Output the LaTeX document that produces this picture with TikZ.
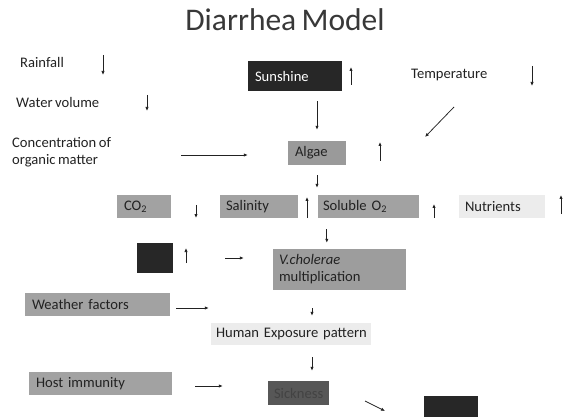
\documentclass[tikz,border=0pt]{standalone}
\usepackage{fontspec}
\setmainfont{Carlito}[WordSpace=0.75]
\usetikzlibrary{arrows.meta,positioning}

\definecolor{ink}{HTML}{222222}
\definecolor{darkbox}{HTML}{272727}
\definecolor{midbox}{HTML}{A2A2A2}
\definecolor{lightbox}{HTML}{ECECEC}
\definecolor{sickbox}{HTML}{575757}

\tikzset{
  every node/.style={font=\fontsize{14.6}{17}\selectfont, text=ink},
  flow/.style={draw=ink, line width=0.75pt, -{Latex[length=4pt,width=3.4pt]}},
  box/.style={rectangle, inner xsep=7pt, inner ysep=0pt, align=left, minimum height=23pt, fill=midbox},
  lbl/.style={anchor=base west, inner sep=0pt},
  pics/trendup/.style={code={\draw[flow] (0,#1/2) -- (0,-#1/2);}},
  pics/trenddown/.style={code={\draw[flow] (0,-#1/2) -- (0,#1/2);}},
}

\begin{document}
\begin{tikzpicture}[x=1pt,y=-1pt]
\useasboundingbox (0,0) rectangle (576,417);

\node[anchor=base, font=\fontsize{31.5}{38}\selectfont, text=ink!90] (title) at (285,31) {Diarrhea Model};

% climate factors
\node[lbl] (rain) at (20,67.5) {Rainfall};
\node[lbl] (water) at (16,108) {Water volume};
\node[anchor=west, inner sep=0pt, align=left] (conc) at (12,152) {Concentration of\\organic matter};
\node[lbl] (temp) at (411,79) {Temperature};
\node[box, fill=darkbox, text=white, text width=80pt, minimum height=30pt] (sun) at (295,76) {Sunshine};
\node[box, fill=midbox!95!black, text width=44pt, minimum height=24pt] (algae) at (317,153) {Algae};

% water conditions
\node[box, text width=40pt] (co2) at (144,206.5) {CO\textsubscript{2}};
\node[box, inner xsep=6pt, text width=66pt] (salin) at (259,206.5) {Salinity};
\node[box, inner xsep=5pt, text width=91pt] (o2) at (368.5,206.5) {\mbox{Soluble O\textsubscript{2}}};
\node[box, inner xsep=6pt, fill=lightbox, text width=74pt] (nutr) at (502,206.5) {Nutrients};
\node[rectangle, fill=darkbox, minimum width=36pt, minimum height=30pt] (blk) at (155,258) {};
\node[box, inner xsep=6pt, fill=midbox!97!black, text width=121pt, minimum height=41pt] (vib) at (339.5,269.5) {\textit{V.cholerae}\\multiplication};

% human side
\node[box, text width=131pt] (weather) at (97.5,304.5) {\mbox{Weather factors}};
\node[box, inner xsep=5pt, fill=lightbox, text width=150pt, minimum height=22pt] (human) at (291,334) {\mbox{Human Exposure pattern}};
\node[box, text width=129pt] (host) at (100.5,383.5) {\mbox{Host immunity}};
\node[box, inner xsep=6pt, fill=sickbox, text=ink!85, text width=49pt, minimum height=24pt] (sick) at (298.5,393) {Sickness};
\node[rectangle, fill=darkbox, minimum width=54pt, minimum height=29pt] (blk2) at (451,410.5) {};

\coordinate (t1) at (454,107);
\coordinate (t2) at (425,137);
\coordinate (s1) at (365,401);
\coordinate (s2) at (385,411);

% links
\draw[flow, shorten <=10pt, shorten >=11pt] (sun.south -| algae.north) -- (algae.north);
\draw[flow] (t1) -- (t2);
\draw[flow, shorten <=70pt, shorten >=40pt] ([yshift=-3pt]conc.east) -- ([yshift=-3pt]conc.east -| algae.west);
\draw[flow, shorten <=10pt, shorten >=7pt] (algae.south) -- (algae.south |- o2.north);
\draw[flow, shorten <=11pt, shorten >=6pt] ([xshift=9pt]o2.south west) -- ([xshift=9pt]o2.south west |- vib.north);
\draw[flow, shorten <=52pt, shorten >=29pt] (blk.east) -- (blk.east -| vib.west);
\draw[flow, shorten <=18pt, shorten >=7pt] ([xshift=-27.5pt]vib.south) -- ([xshift=-27.5pt]vib.south |- human.north);
\draw[flow, shorten <=6pt, shorten >=2pt] ([yshift=-3.5pt]weather.east) -- ([yshift=-3.5pt]weather.east -| human.west);
\draw[flow, shorten <=12pt, shorten >=10pt] ([xshift=21pt]human.south) -- ([xshift=21pt]human.south |- sick.north);
\draw[flow, shorten <=23pt, shorten >=45pt] ([yshift=-2.5pt]host.east) -- ([yshift=-2.5pt]host.east -| sick.west);
\draw[flow] (s1) -- (s2);

% trends
\pic at (103,65) {trenddown=20};
\pic at (351,76) {trendup=18};
\pic at (532,76) {trenddown=20};
\pic at (147,103) {trenddown=16};
\pic at (380,151.5) {trendup=19};
\pic at (196,211.5) {trenddown=13};
\pic at (307,207.5) {trendup=21};
\pic at (434,211) {trendup=14};
\pic at (561,204.5) {trendup=19};
\pic at (186,255.5) {trendup=15};
\end{tikzpicture}
\end{document}
